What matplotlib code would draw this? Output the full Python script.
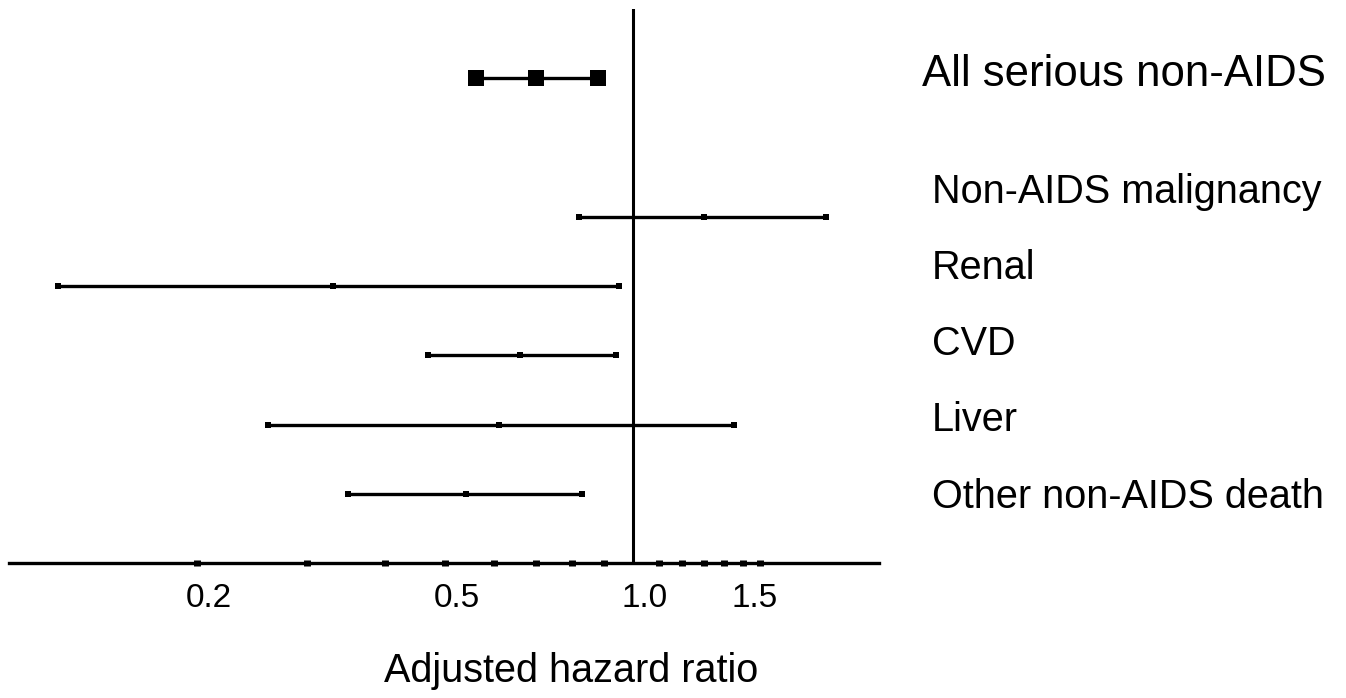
import matplotlib
matplotlib.use('Agg')
import matplotlib.pyplot as plt
import matplotlib.transforms as mtransforms

# hazard ratios with 95% CI
outcomes = ['All serious non-AIDS', 'Non-AIDS malignancy', 'Renal', 'CVD', 'Liver',
            'Other non-AIDS death']
hr = [0.70, 1.30, 0.33, 0.66, 0.61, 0.54]
ci_low = [0.56, 0.82, 0.12, 0.47, 0.26, 0.35]
ci_high = [0.88, 2.04, 0.95, 0.94, 1.45, 0.83]
rows = [7, 5, 4, 3, 2, 1]

tick_vals = [0.2, 0.3, 0.4, 0.5, 0.6, 0.7, 0.8, 0.9, 1.0, 1.1, 1.2, 1.3, 1.4, 1.5, 1.6]
tick_labels = {0.2: '0.2', 0.5: '0.5', 1.0: '1.0', 1.5: '1.5'}

plt.rcParams['font.family'] = ['Liberation Sans', 'DejaVu Sans']

W, H = 1346, 698
fig = plt.figure(figsize=(W / 100, H / 100), dpi=100)
ax = fig.add_axes([9 / W, (H - 563) / H, 870 / W, 554 / H])
ax.set_xscale('log')
ax.set_xlim(0.1, 2.48)
ax.set_ylim(0, 8)

for i, name in enumerate(outcomes):
    big = i == 0
    ax.plot([ci_low[i], hr[i], ci_high[i]], [rows[i]] * 3, color='black', lw=2.4,
            marker='s', ms=11.5 if big else 5, mew=0, solid_capstyle='butt',
            clip_on=False)
    if big:
        ax.text(1.049, rows[i] - 0.11, name, transform=ax.get_yaxis_transform(),
                fontsize=31.5, ha='left', va='baseline')
    else:
        ax.text(1.061, 0.8 + 1.1 * (rows[i] - 1), name, transform=ax.get_yaxis_transform(),
                fontsize=28.5, ha='left', va='baseline')

ax.axvline(1.0, color='black', lw=2.2)

for s in ['top', 'right', 'left']:
    ax.spines[s].set_visible(False)
ax.spines['bottom'].set_linewidth(2.4)
ax.set_yticks([])

ax.set_xticks(tick_vals)
ax.set_xticks([], minor=True)
ax.set_xticklabels([tick_labels.get(v, '') for v in tick_vals])
ax.tick_params(axis='x', which='major', direction='inout', length=5, width=5,
               pad=12, labelsize=24)
for t, v in zip(ax.xaxis.get_major_ticks(), tick_vals):
    if v == 1.0:
        t.tick1line.set_visible(False)

offset = mtransforms.ScaledTranslation(12 / 100, 0, fig.dpi_scale_trans)
for lbl in ax.get_xticklabels():
    lbl.set_transform(lbl.get_transform() + offset)

fig.text(571.5 / W, (H - 682) / H, 'Adjusted hazard ratio', ha='center',
         va='baseline', fontsize=28.5)

fig.savefig('out.png', dpi=100)
